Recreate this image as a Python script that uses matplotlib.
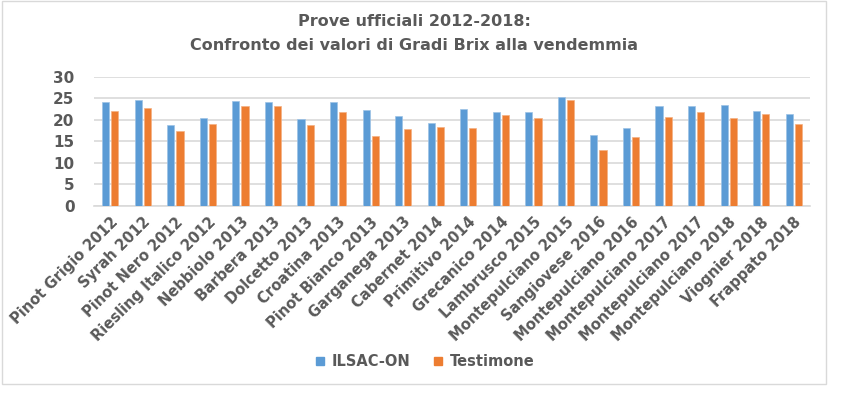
import numpy as np
import matplotlib.pyplot as plt
from matplotlib.patches import Rectangle
from matplotlib.lines import Line2D

categories = ['Pinot Grigio 2012', 'Syrah 2012', 'Pinot Nero 2012', 'Riesling Italico 2012',
              'Nebbiolo 2013', 'Barbera 2013', 'Dolcetto 2013', 'Croatina 2013',
              'Pinot Bianco 2013', 'Garganega 2013', 'Cabernet 2014', 'Primitivo 2014',
              'Grecanico 2014', 'Lambrusco 2015', 'Montepulciano 2015', 'Sangiovese 2016',
              'Montepulciano 2016', 'Montepulciano 2017', 'Montepulciano 2017',
              'Montepulciano 2018', 'Viognier 2018', 'Frappato 2018']
ilsac = [24.2, 24.5, 18.9, 20.4, 24.4, 24.2, 20.1, 24.1, 22.3, 20.9, 19.2, 22.4,
         21.8, 21.8, 25.4, 16.4, 18.2, 23.1, 23.2, 23.5, 22.0, 21.4]
testimone = [22.0, 22.7, 17.3, 19.0, 23.3, 23.1, 18.8, 21.9, 16.2, 17.8, 18.3, 18.2,
             21.0, 20.5, 24.7, 12.9, 15.9, 20.7, 21.8, 20.4, 21.4, 19.0]

grey = '#595959'
blue = '#5B9BD5'
orange = '#ED7D31'
plt.rcParams['font.family'] = ['DejaVu Sans']

fig = plt.figure(figsize=(8.5, 3.94), dpi=100)
ax = fig.add_axes([94 / 850, 1 - 206 / 394, 716 / 850, 129.3 / 394])

x = np.arange(len(categories))
w = 0.22
ax.bar(x - 0.14, ilsac, w, color=blue, edgecolor='#9DC3E6', linewidth=0.5, zorder=3)
ax.bar(x + 0.14, testimone, w, color=orange, edgecolor='#F4B183', linewidth=0.5, zorder=3)

ax.set_xlim(-0.5, len(categories) - 0.5)
ax.set_ylim(0, 30)
ax.set_yticks(np.arange(0, 31, 5))
ax.yaxis.grid(True, color='#D9D9D9', linewidth=1.2, zorder=0)
for s in ['top', 'right', 'left']:
    ax.spines[s].set_visible(False)
ax.spines['bottom'].set_color('#D9D9D9')
ax.spines['bottom'].set_linewidth(1.2)
ax.tick_params(length=0, colors=grey, labelsize=11)
ax.tick_params(axis='y', pad=14)
ax.tick_params(axis='x', pad=6)
ax.set_xticks(x)
ax.set_xticklabels(categories, rotation=45, ha='right', rotation_mode='anchor',
                   fontweight='bold', fontsize=10.5, color=grey)
for t in ax.get_yticklabels():
    t.set_fontweight('bold')

fig.text(0.487, 0.945, 'Prove ufficiali 2012-2018:', ha='center', va='center',
         fontsize=11.5, fontweight='bold', color=grey)
fig.text(0.487, 0.885, 'Confronto dei valori di Gradi Brix alla vendemmia', ha='center',
         va='center', fontsize=11.5, fontweight='bold', color=grey)

handles = [Line2D([], [], marker='s', linestyle='', color=blue, markersize=6),
           Line2D([], [], marker='s', linestyle='', color=orange, markersize=6)]
leg = fig.legend(handles, ['ILSAC-ON', 'Testimone'], loc='center',
                 bbox_to_anchor=(0.5, 1 - 362 / 394), ncol=2, frameon=False,
                 handlelength=0.6, handletextpad=0.5, columnspacing=1.6,
                 prop={'weight': 'bold', 'size': 10.5})
for t in leg.get_texts():
    t.set_color(grey)

fig.patches.append(Rectangle((2 / 850, 1 - 384 / 394), 824 / 850, 383 / 394,
                             transform=fig.transFigure, fill=False,
                             edgecolor='#D9D9D9', linewidth=1))

fig.savefig('out.png', dpi=100)
